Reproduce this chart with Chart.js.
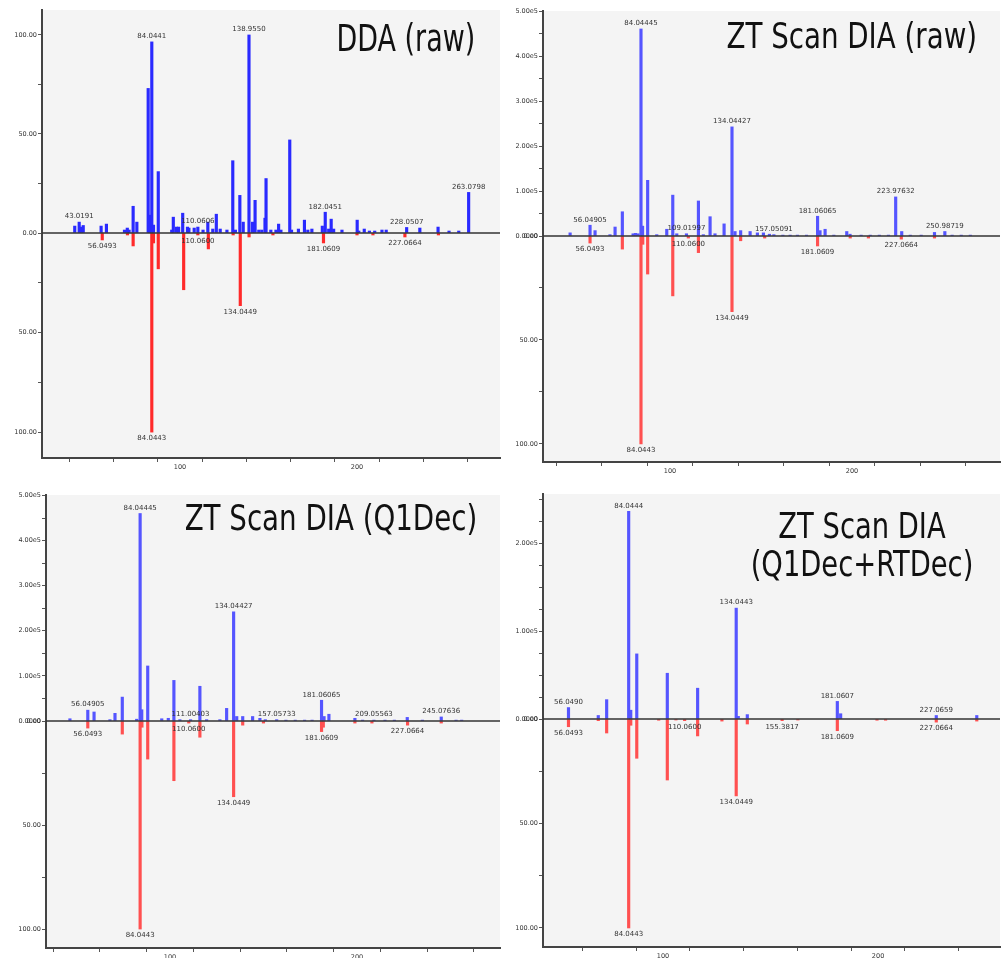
<!DOCTYPE html>
<html>
<head>
<meta charset="utf-8">
<script src="https://cdn.jsdelivr.net/npm/chart.js@4/dist/chart.umd.min.js"></script>
<style>
    body { margin: 0; background: #fff; width: 1007px; height: 958px; position: relative; overflow: hidden; }
    canvas { position: absolute; }
    .title {
        position: absolute;
        font-family: "Liberation Sans Narrow", "DejaVu Sans Condensed", sans-serif;
        color: #111;
        line-height: 1;
        white-space: nowrap;
    }
</style>
</head>
<body>
<canvas id="c1" width="502" height="476" style="left:0;top:0"></canvas>
<canvas id="c2" width="505" height="476" style="left:502px;top:0"></canvas>
<canvas id="c3" width="502" height="482" style="left:0;top:476px"></canvas>
<canvas id="c4" width="505" height="482" style="left:502px;top:476px"></canvas>

<div class="title" style="right:532px;top:20px;font-size:37px;transform:scaleX(0.81);transform-origin:right">DDA (raw)</div>
<div class="title" style="right:30px;top:18px;font-size:36px;transform:scaleX(0.855);transform-origin:right">ZT Scan DIA (raw)</div>
<div class="title" style="right:530px;top:500px;font-size:36px;transform:scaleX(0.855);transform-origin:right">ZT Scan DIA (Q1Dec)</div>
<div class="title" style="left:712px;width:300px;top:507px;font-size:36px;text-align:center;line-height:38px;transform:scaleX(0.845);transform-origin:center">ZT Scan DIA<br>(Q1Dec+RTDec)</div>

<script>
// DDA (raw): blue = experimental (rel. %), red = library (rel. %)
const ddaBlueMz = [40.5, 43.02, 44.2, 45.3, 55.4, 58.4, 68.6, 70.2, 71.2, 73.5, 75.6, 82.0, 82.8, 84.04, 85.0, 87.7, 95.3, 96.2, 98.0, 99.2, 101.5, 104.2, 105.0, 108.0, 110.06, 113.0, 115.7, 118.5, 120.5, 122.7, 126.5, 129.8, 131.3, 133.8, 135.7, 138.96, 141.0, 142.4, 144.5, 146.2, 148.0, 148.6, 151.3, 154.2, 155.7, 157.0, 162.0, 163.0, 166.9, 170.3, 172.2, 174.5, 180.4, 182.05, 184.0, 185.4, 186.8, 191.5, 200.1, 201.0, 204.1, 207.0, 210.0, 214.1, 216.5, 228.05, 235.5, 245.8, 252.0, 257.5, 263.08];
const ddaBlueInt = [3.5, 5.5, 3, 3.8, 3.5, 4.5, 1.5, 2.5, 1.5, 13.5, 5.5, 73, 9, 96.5, 4, 31, 1.5, 8, 3, 3, 10, 3, 2.5, 2.5, 3, 1.5, 5.5, 2, 9.5, 2, 1.5, 36.5, 1.5, 19, 5.5, 100, 5.5, 16.5, 1.5, 1.5, 7.5, 27.5, 1.5, 1.5, 4.5, 1.5, 47, 1.5, 2, 6.5, 1.5, 2, 3.5, 10.5, 2, 7, 2, 1.5, 6.5, 1, 2, 1, 1, 1.5, 1.5, 2.8, 2.5, 3, 1, 1, 20.5];
const ddaRedMz = [56.05, 70.3, 73.5, 84.04, 85.0, 87.7, 102.05, 110.06, 116.0, 130.0, 134.04, 139.0, 152.5, 181.06, 200.0, 209.0, 227.07, 246.0];
const ddaRedInt = [3.5, 1, 6.5, 100, 5, 18, 28.5, 1, 8, 1, 36.5, 2, 1, 5, 1, 1, 2, 1];
const ddaBlueTags = [[43.02, '43.0191'], [84.04, '84.0441'], [110.06, '110.0606'], [138.96, '138.9550'], [182.05, '182.0451'], [228.05, '228.0507'], [263.08, '263.0798']];
const ddaRedTags = [[56.05, '56.0493'], [84.04, '84.0443'], [110.06, '110.0600'], [134.04, '134.0449'], [181.06, '181.0609'], [227.07, '227.0664']];

// ZT Scan DIA (raw): blue in counts, red rel. %
const rawBlueMz = [45.1, 56.05, 58.8, 67.0, 69.8, 73.8, 79.7, 81.0, 82.4, 84.04, 84.9, 87.7, 92.7, 98.2, 101.5, 103.7, 109.02, 115.6, 118.3, 122.0, 124.7, 129.7, 134.04, 135.7, 138.8, 144.0, 148.0, 151.3, 154.6, 157.05, 162.0, 166.0, 170.0, 175.0, 181.06, 182.4, 185.2, 190.0, 197.1, 198.9, 205.0, 210.0, 215.0, 220.0, 223.98, 227.3, 232.0, 238.0, 245.3, 250.99, 255.0, 260.0, 265.0];
const rawBlueInt = [7000, 24000, 12000, 3000, 20000, 54000, 5000, 6000, 5000, 461000, 22000, 124000, 3000, 15000, 91000, 5000, 5000, 78000, 3000, 43000, 5000, 27000, 243000, 10000, 12000, 10000, 7000, 7000, 4000, 3000, 2000, 2000, 2000, 2000, 44000, 12000, 15000, 2000, 10000, 4000, 2000, 2000, 2000, 2000, 87000, 10000, 2000, 2000, 8000, 10000, 2000, 2000, 2000];
const rawRedMz = [56.05, 73.8, 84.04, 85.0, 87.7, 101.5, 110.06, 115.6, 134.04, 138.8, 152.0, 181.06, 199.0, 209.0, 227.07, 245.3];
const rawRedInt = [3.4, 6.3, 100, 4, 18.3, 28.8, 1, 8, 36.4, 2.3, 1, 4.8, 1, 1, 1.5, 1];
const rawBlueTags = [[56.05, '56.04905'], [84.04, '84.04445'], [109.02, '109.01997'], [134.04, '134.04427'], [157.05, '157.05091'], [181.06, '181.06065'], [223.98, '223.97632'], [250.99, '250.98719']];
const rawRedTags = [[56.05, '56.0493'], [84.04, '84.0443'], [110.06, '110.0600'], [134.04, '134.0449'], [181.06, '181.0609'], [227.07, '227.0664']];

// ZT Scan DIA (Q1Dec)
const q1BlueMz = [46.5, 56.05, 59.4, 67.9, 70.6, 74.5, 82.2, 84.04, 84.9, 88.1, 95.6, 99.1, 102.1, 105.3, 111.0, 116.0, 119.6, 126.7, 130.3, 134.04, 135.7, 138.9, 144.2, 148.1, 151.0, 157.06, 162.0, 167.0, 172.0, 176.0, 181.06, 182.4, 185.0, 198.9, 203.0, 209.06, 215.0, 220.0, 226.9, 235.0, 245.08, 253.0, 256.0];
const q1BlueInt = [5000, 24000, 20000, 3000, 17000, 53000, 4000, 460000, 25000, 122000, 5000, 6000, 90000, 3000, 3000, 77000, 3000, 3000, 28000, 242000, 10000, 10000, 10000, 6000, 3000, 3000, 2000, 2000, 2000, 2000, 46000, 10000, 15000, 6000, 2000, 2000, 2000, 2000, 8000, 2000, 9000, 2000, 2000];
const q1RedMz = [56.05, 74.5, 84.04, 85.0, 88.1, 102.1, 110.06, 116.0, 134.04, 138.9, 150.0, 181.06, 182.0, 198.9, 208.0, 227.07, 245.08];
const q1RedInt = [3.4, 6.3, 100, 3, 18.3, 28.7, 1, 7.8, 36.4, 2, 1, 5.1, 3, 1, 1, 2, 1];
const q1BlueTags = [[56.05, '56.04905'], [84.04, '84.04445'], [111.0, '111.00403'], [134.04, '134.04427'], [157.06, '157.05733'], [181.06, '181.06065'], [209.06, '209.05563'], [245.08, '245.07636']];
const q1RedTags = [[56.05, '56.0493'], [84.04, '84.0443'], [110.06, '110.0600'], [134.04, '134.0449'], [181.06, '181.0609'], [227.07, '227.0664']];

// ZT Scan DIA (Q1Dec+RTDec)
const rtBlueMz = [56.05, 69.9, 73.8, 84.04, 85.0, 87.8, 102.0, 116.1, 134.04, 135.0, 139.2, 181.06, 182.6, 227.07, 245.9];
const rtBlueInt = [13000, 4000, 22000, 236000, 10000, 74000, 52000, 35000, 126000, 3000, 5000, 20000, 6000, 4000, 4000];
const rtRedMz = [56.05, 69.9, 73.8, 84.04, 85.0, 87.8, 98.0, 102.0, 106.0, 110.06, 116.1, 127.4, 134.04, 139.2, 155.38, 162.7, 181.06, 199.5, 203.5, 227.07, 245.9];
const rtRedInt = [3.7, 0.8, 6.7, 100, 3, 18.8, 0.6, 29.2, 0.5, 0.8, 8.1, 1, 36.8, 2.4, 0.8, 0.5, 5.6, 0.6, 0.6, 1.5, 1];
const rtBlueTags = [[56.05, '56.0490'], [84.04, '84.0444'], [134.04, '134.0443'], [181.06, '181.0607'], [227.07, '227.0659']];
const rtRedTags = [[56.05, '56.0493'], [84.04, '84.0443'], [110.06, '110.0600'], [134.04, '134.0449'], [155.38, '155.3817'], [181.06, '181.0609'], [227.07, '227.0664']];

const tickFont = { family: 'DejaVu Sans', size: 6.5 };

function toPoints(mz, vals) {
    return mz.map((m, i) => ({ x: m, y: vals[i] }));
}

function fmtPct(v) {
    return v % 50 === 0 ? v.toFixed(2) : '';
}

function fmtExp(v) {
    if (v === 0) return '0.00e0';
    const k = v / 1e5;
    return Math.abs(k - Math.round(k)) < 1e-6 ? k.toFixed(2) + 'e5' : '';
}

// fixed tick spacing (stepSize with min+max set gets re-spaced by Chart.js)
function stepTicks(max, step) {
    return s => {
        const t = [];
        for (let i = 0; i * step <= max; i++) t.push({ value: i * step });
        s.ticks = t;
    };
}

// background, zero line and the m/z tags
const panelDeco = {
    id: 'panelDeco',
    beforeDraw(chart) {
        const a = chart.chartArea, c = chart.ctx;
        c.save();
        c.fillStyle = '#f4f4f4';
        c.fillRect(a.left, a.top, a.right - a.left, a.bottom - a.top);
        c.restore();
    },
    afterDatasetsDraw(chart) {
        const a = chart.chartArea, c = chart.ctx;
        const y0 = chart.scales.yTop.getPixelForValue(0);
        c.save();
        c.strokeStyle = '#333';
        c.lineWidth = 1.5;
        c.beginPath();
        c.moveTo(a.left, y0);
        c.lineTo(a.right, y0);
        c.stroke();

        c.font = '7px "DejaVu Sans"';
        c.fillStyle = '#333';
        c.textAlign = 'center';
        chart.data.datasets.forEach((ds, di) => {
            const meta = chart.getDatasetMeta(di);
            ds.tags.forEach(([mz, text]) => {
                const i = ds.data.findIndex(p => p.x === mz);
                if (i < 0) return;
                const bar = meta.data[i];
                if (ds.yAxisID === 'yTop') {
                    c.textBaseline = 'bottom';
                    c.fillText(text, bar.x, bar.y - 2);
                } else {
                    c.textBaseline = 'top';
                    c.fillText(text, bar.x, bar.y + 3);
                }
            });
        });
        c.restore();
    }
};

function makePanel(p) {
    const axisLine = { color: '#444', width: 2 };
    const tickGrid = { drawOnChartArea: false, tickLength: 4, color: '#555' };
    new Chart(document.getElementById(p.id), {
        type: 'bar',
        data: {
            datasets: [{
                data: toPoints(p.blueMz, p.blueInt),
                yAxisID: 'yTop',
                backgroundColor: p.blue,
                barThickness: 2.5,
                grouped: false,
                tags: p.blueTags
            }, {
                data: toPoints(p.redMz, p.redInt),
                yAxisID: 'yBot',
                backgroundColor: p.red,
                barThickness: 2.5,
                grouped: false,
                tags: p.redTags
            }]
        },
        options: {
            responsive: false,
            animation: false,
            layout: { padding: { top: p.padTop, right: p.padRight, left: 0, bottom: 0 } },
            plugins: { legend: { display: false }, tooltip: { enabled: false } },
            scales: {
                x: {
                    type: 'linear',
                    offset: false,
                    min: p.xMin,
                    max: p.xMax,
                    border: axisLine,
                    grid: tickGrid,
                    ticks: {
                        stepSize: 25, includeBounds: false, autoSkip: false, maxRotation: 0,
                        padding: 1, font: tickFont, color: '#333',
                        callback: v => (v % 100 === 0 ? v : '')
                    },
                    afterFit: s => { s.height = p.xH; }
                },
                yBot: {
                    type: 'linear',
                    position: 'left',
                    stack: 'mirror',
                    stackWeight: p.wBot,
                    reverse: true,
                    min: 0,
                    max: p.botMax,
                    border: axisLine,
                    grid: tickGrid,
                    afterBuildTicks: stepTicks(p.botMax, 25),
                    ticks: {
                        autoSkip: false, padding: 1, font: tickFont, color: '#333',
                        callback: v => (v === 0 && !p.exp ? '' : fmtPct(v))
                    },
                    afterFit: s => { s.width = p.yW; }
                },
                yTop: {
                    type: 'linear',
                    position: 'left',
                    stack: 'mirror',
                    stackWeight: p.wTop,
                    min: 0,
                    max: p.topMax,
                    border: axisLine,
                    grid: tickGrid,
                    afterBuildTicks: stepTicks(p.topMax, p.topStep),
                    ticks: {
                        autoSkip: false, padding: 1, font: tickFont, color: '#333',
                        callback: v => (p.exp ? fmtExp(v) : fmtPct(v))
                    },
                    afterFit: s => { s.width = p.yW; }
                }
            }
        },
        plugins: [panelDeco]
    });
}

makePanel({
    id: 'c1', blueMz: ddaBlueMz, blueInt: ddaBlueInt, redMz: ddaRedMz, redInt: ddaRedInt,
    blueTags: ddaBlueTags, redTags: ddaRedTags, blue: '#2a2aff', red: '#ff2a2a',
    padTop: 10, padRight: 2, yW: 42, xH: 18, xMin: 22, xMax: 280.8,
    topMax: 112.6, botMax: 113, wTop: 223, wBot: 225, topStep: 25, exp: false
});
makePanel({
    id: 'c2', blueMz: rawBlueMz, blueInt: rawBlueInt, redMz: rawRedMz, redInt: rawRedInt,
    blueTags: rawBlueTags, redTags: rawRedTags, blue: '#5555ff', red: '#ff5050',
    padTop: 11, padRight: 7, yW: 41, xH: 14, xMin: 30.2, xMax: 281.3,
    topMax: 501000, botMax: 108.7, wTop: 225, wBot: 226, topStep: 50000, exp: true
});
makePanel({
    id: 'c3', blueMz: q1BlueMz, blueInt: q1BlueInt, redMz: q1RedMz, redInt: q1RedInt,
    blueTags: q1BlueTags, redTags: q1RedTags, blue: '#5555ff', red: '#ff5050',
    padTop: 19, padRight: 2, yW: 46, xH: 10, xMin: 33.7, xMax: 276.5,
    topMax: 501000, botMax: 109.1, wTop: 226, wBot: 227, topStep: 50000, exp: true
});
makePanel({
    id: 'c4', blueMz: rtBlueMz, blueInt: rtBlueInt, redMz: rtRedMz, redInt: rtRedInt,
    blueTags: rtBlueTags, redTags: rtRedTags, blue: '#5555ff', red: '#ff5050',
    padTop: 18, padRight: 7, yW: 41, xH: 11, xMin: 44.2, xMax: 256.7,
    topMax: 255700, botMax: 109.1, wTop: 225, wBot: 228, topStep: 25000, exp: true
});
</script>
</body>
</html>
